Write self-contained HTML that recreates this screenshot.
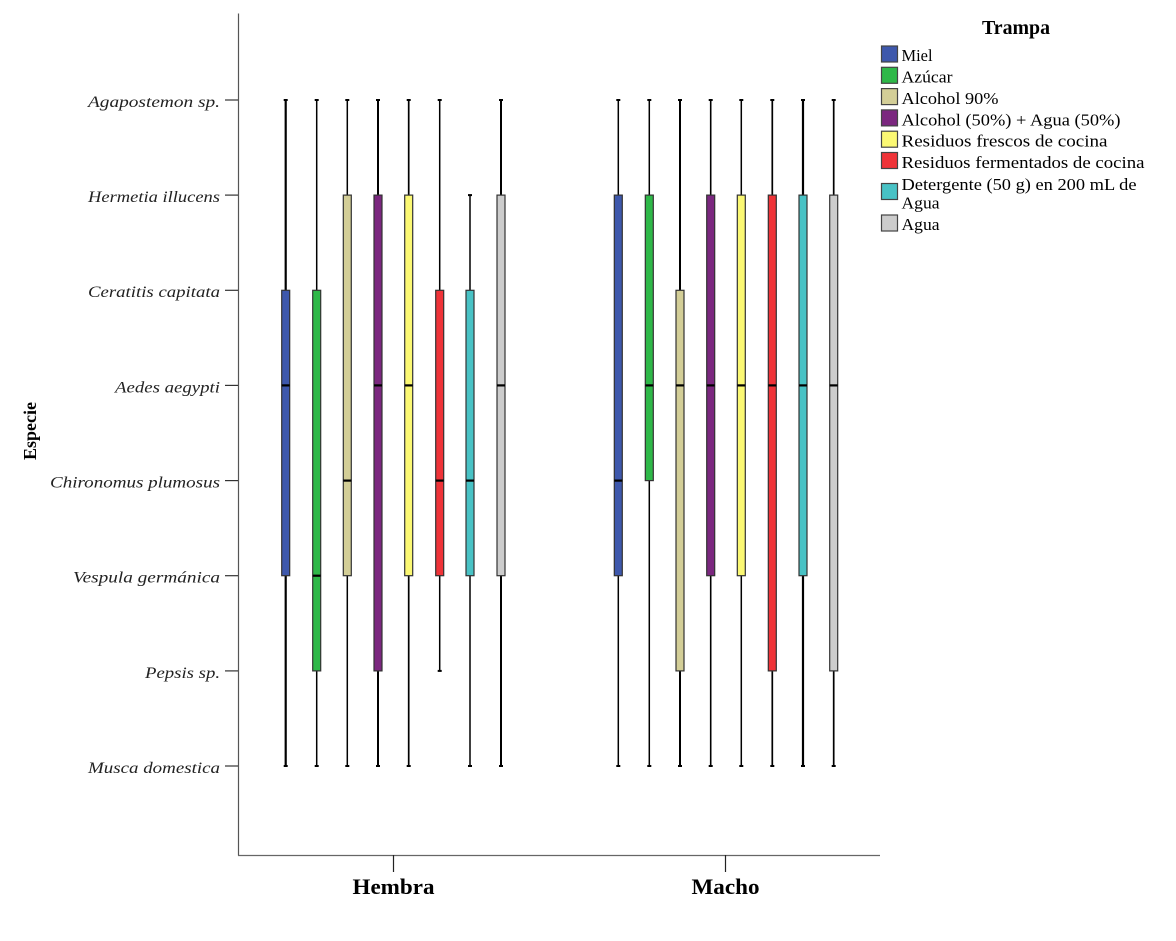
<!DOCTYPE html>
<html><head><meta charset="utf-8"><style>
html,body{margin:0;padding:0;background:#fff;}
svg{display:block;}
</style></head><body>
<svg width="1176" height="941" viewBox="0 0 1176 941" xmlns="http://www.w3.org/2000/svg" font-family="'Liberation Serif', serif">
<rect width="1176" height="941" fill="#fff"/>
<!-- axes -->
<line x1="238.5" y1="13.5" x2="238.5" y2="855.5" stroke="#555" stroke-width="1.2"/>
<line x1="238" y1="855.5" x2="880" y2="855.5" stroke="#666" stroke-width="1.2"/>
<line x1="393.5" y1="855" x2="393.5" y2="872" stroke="#222" stroke-width="1.2"/>
<line x1="725.5" y1="855" x2="725.5" y2="872" stroke="#222" stroke-width="1.2"/>
<!-- y ticks -->
<g stroke="#333" stroke-width="1.2">
<line x1="225" y1="100" x2="238" y2="100"/>
<line x1="225" y1="195.1" x2="238" y2="195.1"/>
<line x1="225" y1="290.3" x2="238" y2="290.3"/>
<line x1="225" y1="385.4" x2="238" y2="385.4"/>
<line x1="225" y1="480.6" x2="238" y2="480.6"/>
<line x1="225" y1="575.7" x2="238" y2="575.7"/>
<line x1="225" y1="670.9" x2="238" y2="670.9"/>
<line x1="225" y1="766" x2="238" y2="766"/>
</g>
<!-- y labels -->
<g font-style="italic" font-size="16" fill="#222" text-anchor="end">
<text x="220" y="107" textLength="132" lengthAdjust="spacingAndGlyphs">Agapostemon sp.</text>
<text x="220" y="202" textLength="132" lengthAdjust="spacingAndGlyphs">Hermetia illucens</text>
<text x="220" y="297" textLength="132" lengthAdjust="spacingAndGlyphs">Ceratitis capitata</text>
<text x="220" y="392.5" textLength="105" lengthAdjust="spacingAndGlyphs">Aedes aegypti</text>
<text x="220" y="487.5" textLength="170" lengthAdjust="spacingAndGlyphs">Chironomus plumosus</text>
<text x="220" y="582.5" textLength="147" lengthAdjust="spacingAndGlyphs">Vespula germánica</text>
<text x="220" y="678" textLength="75" lengthAdjust="spacingAndGlyphs">Pepsis sp.</text>
<text x="220" y="773" textLength="132" lengthAdjust="spacingAndGlyphs">Musca domestica</text>
</g>
<text transform="translate(36,431) rotate(-90)" font-size="18" font-weight="bold" text-anchor="middle" fill="#000" textLength="58" lengthAdjust="spacingAndGlyphs">Especie</text>
<text x="393.5" y="894" font-size="22" font-weight="bold" text-anchor="middle" fill="#000" textLength="82" lengthAdjust="spacingAndGlyphs">Hembra</text>
<text x="725.5" y="894" font-size="22" font-weight="bold" text-anchor="middle" fill="#000" textLength="68" lengthAdjust="spacingAndGlyphs">Macho</text>

<!-- Boxes: whiskers then boxes -->
<g stroke="#000">
<!-- Hembra -->
<line x1="285.7" y1="100" x2="285.7" y2="766" stroke-width="2.2"/>
<line x1="316.7" y1="100" x2="316.7" y2="766" stroke-width="1.5"/>
<line x1="347.3" y1="100" x2="347.3" y2="766" stroke-width="1.5"/>
<line x1="378" y1="100" x2="378" y2="766" stroke-width="2"/>
<line x1="408.7" y1="100" x2="408.7" y2="766" stroke-width="1.7"/>
<line x1="439.7" y1="100" x2="439.7" y2="670.9" stroke-width="1.5"/>
<line x1="470" y1="195.1" x2="470" y2="766" stroke-width="1.5"/>
<line x1="501" y1="100" x2="501" y2="766" stroke-width="2"/>
<!-- Macho -->
<line x1="618.3" y1="100" x2="618.3" y2="766" stroke-width="1.5"/>
<line x1="649.3" y1="100" x2="649.3" y2="766" stroke-width="1.5"/>
<line x1="680" y1="100" x2="680" y2="766" stroke-width="2"/>
<line x1="710.7" y1="100" x2="710.7" y2="766" stroke-width="1.6"/>
<line x1="741.3" y1="100" x2="741.3" y2="766" stroke-width="1.5"/>
<line x1="772.3" y1="100" x2="772.3" y2="766" stroke-width="1.7"/>
<line x1="803" y1="100" x2="803" y2="766" stroke-width="2.2"/>
<line x1="833.7" y1="100" x2="833.7" y2="766" stroke-width="1.7"/>
</g>
<!-- caps -->
<g stroke="#000" stroke-width="2">
<line x1="283.7" y1="100" x2="287.7" y2="100"/><line x1="283.7" y1="766" x2="287.7" y2="766"/>
<line x1="314.7" y1="100" x2="318.7" y2="100"/><line x1="314.7" y1="766" x2="318.7" y2="766"/>
<line x1="345.3" y1="100" x2="349.3" y2="100"/><line x1="345.3" y1="766" x2="349.3" y2="766"/>
<line x1="376" y1="100" x2="380" y2="100"/><line x1="376" y1="766" x2="380" y2="766"/>
<line x1="406.7" y1="100" x2="410.7" y2="100"/><line x1="406.7" y1="766" x2="410.7" y2="766"/>
<line x1="437.7" y1="100" x2="441.7" y2="100"/><line x1="437.7" y1="670.9" x2="441.7" y2="670.9"/>
<line x1="468" y1="195.1" x2="472" y2="195.1"/><line x1="468" y1="766" x2="472" y2="766"/>
<line x1="499" y1="100" x2="503" y2="100"/><line x1="499" y1="766" x2="503" y2="766"/>
<line x1="616.3" y1="100" x2="620.3" y2="100"/><line x1="616.3" y1="766" x2="620.3" y2="766"/>
<line x1="647.3" y1="100" x2="651.3" y2="100"/><line x1="647.3" y1="766" x2="651.3" y2="766"/>
<line x1="678" y1="100" x2="682" y2="100"/><line x1="678" y1="766" x2="682" y2="766"/>
<line x1="708.7" y1="100" x2="712.7" y2="100"/><line x1="708.7" y1="766" x2="712.7" y2="766"/>
<line x1="739.3" y1="100" x2="743.3" y2="100"/><line x1="739.3" y1="766" x2="743.3" y2="766"/>
<line x1="770.3" y1="100" x2="774.3" y2="100"/><line x1="770.3" y1="766" x2="774.3" y2="766"/>
<line x1="801" y1="100" x2="805" y2="100"/><line x1="801" y1="766" x2="805" y2="766"/>
<line x1="831.7" y1="100" x2="835.7" y2="100"/><line x1="831.7" y1="766" x2="835.7" y2="766"/>
</g>
<!-- boxes -->
<g stroke="#333" stroke-width="1.2">
<rect x="281.7" y="290.3" width="8" height="285.4" fill="#3E58AC"/>
<rect x="312.7" y="290.3" width="8" height="380.6" fill="#2EB848"/>
<rect x="343.3" y="195.1" width="8" height="380.6" fill="#D3CE97"/>
<rect x="374" y="195.1" width="8" height="475.8" fill="#7B277F"/>
<rect x="404.7" y="195.1" width="8" height="380.6" fill="#FBF873"/>
<rect x="435.7" y="290.3" width="8" height="285.4" fill="#EF3338"/>
<rect x="466" y="290.3" width="8" height="285.4" fill="#48C2C5"/>
<rect x="497" y="195.1" width="8" height="380.6" fill="#CCCCCC"/>

<rect x="614.3" y="195.1" width="8" height="380.6" fill="#3E58AC"/>
<rect x="645.3" y="195.1" width="8" height="285.5" fill="#2EB848"/>
<rect x="676" y="290.3" width="8" height="380.6" fill="#D3CE97"/>
<rect x="706.7" y="195.1" width="8" height="380.6" fill="#7B277F"/>
<rect x="737.3" y="195.1" width="8" height="380.6" fill="#FBF873"/>
<rect x="768.3" y="195.1" width="8" height="475.8" fill="#EF3338"/>
<rect x="799" y="195.1" width="8" height="380.6" fill="#48C2C5"/>
<rect x="829.7" y="195.1" width="8" height="475.8" fill="#CCCCCC"/>
</g>
<!-- medians -->
<g stroke="#000" stroke-width="2.2">
<line x1="281.7" y1="385.4" x2="289.7" y2="385.4"/>
<line x1="312.7" y1="575.7" x2="320.7" y2="575.7"/>
<line x1="343.3" y1="480.6" x2="351.3" y2="480.6"/>
<line x1="374" y1="385.4" x2="382" y2="385.4"/>
<line x1="404.7" y1="385.4" x2="412.7" y2="385.4"/>
<line x1="435.7" y1="480.6" x2="443.7" y2="480.6"/>
<line x1="466" y1="480.6" x2="474" y2="480.6"/>
<line x1="497" y1="385.4" x2="505" y2="385.4"/>

<line x1="614.3" y1="480.6" x2="622.3" y2="480.6"/>
<line x1="645.3" y1="385.4" x2="653.3" y2="385.4"/>
<line x1="676" y1="385.4" x2="684" y2="385.4"/>
<line x1="706.7" y1="385.4" x2="714.7" y2="385.4"/>
<line x1="737.3" y1="385.4" x2="745.3" y2="385.4"/>
<line x1="768.3" y1="385.4" x2="776.3" y2="385.4"/>
<line x1="799" y1="385.4" x2="807" y2="385.4"/>
<line x1="829.7" y1="385.4" x2="837.7" y2="385.4"/>
</g>

<!-- Legend -->
<text x="1016" y="34" font-size="20" font-weight="bold" text-anchor="middle" fill="#000" textLength="68" lengthAdjust="spacingAndGlyphs">Trampa</text>
<g stroke="#444" stroke-width="1.2">
<rect x="881.5" y="46" width="16" height="16" fill="#3E58AC"/>
<rect x="881.5" y="67.3" width="16" height="16" fill="#2EB848"/>
<rect x="881.5" y="88.6" width="16" height="16" fill="#D3CE97"/>
<rect x="881.5" y="109.9" width="16" height="16" fill="#7B277F"/>
<rect x="881.5" y="131.2" width="16" height="16" fill="#FBF873"/>
<rect x="881.5" y="152.5" width="16" height="16" fill="#EF3338"/>
<rect x="881.5" y="183.5" width="16" height="16" fill="#48C2C5"/>
<rect x="881.5" y="215" width="16" height="16" fill="#CCCCCC"/>
</g>
<g font-size="17" fill="#000">
<text x="901.5" y="61" textLength="31" lengthAdjust="spacingAndGlyphs">Miel</text>
<text x="901.5" y="82.5" textLength="51" lengthAdjust="spacingAndGlyphs">Azúcar</text>
<text x="901.5" y="104" textLength="97" lengthAdjust="spacingAndGlyphs">Alcohol 90%</text>
<text x="901.5" y="125.3" textLength="219" lengthAdjust="spacingAndGlyphs">Alcohol (50%) + Agua (50%)</text>
<text x="901.5" y="146.6" textLength="206" lengthAdjust="spacingAndGlyphs">Residuos frescos de cocina</text>
<text x="901.5" y="168" textLength="243" lengthAdjust="spacingAndGlyphs">Residuos fermentados de cocina</text>
<text x="901.5" y="190" textLength="235" lengthAdjust="spacingAndGlyphs">Detergente (50 g) en 200 mL de</text>
<text x="901.5" y="208.5" textLength="38" lengthAdjust="spacingAndGlyphs">Agua</text>
<text x="901.5" y="230" textLength="38" lengthAdjust="spacingAndGlyphs">Agua</text>
</g>
</svg>
</body></html>
